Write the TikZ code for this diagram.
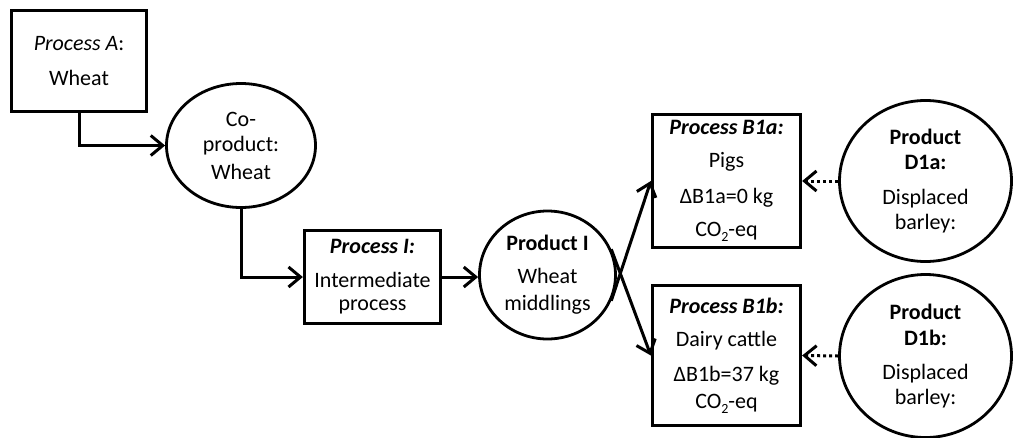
\documentclass[tikz,border=0pt]{standalone}
\usepackage{fontspec}
\setmainfont{Carlito}
\usetikzlibrary{shapes.geometric,arrows.meta}
\newcommand{\sbtwo}{\raisebox{-0.5ex}{\fontsize{14}{14}\selectfont 2}}
\begin{document}
\begin{tikzpicture}[x=1pt,y=-1pt,
  every node/.style={font=\fontsize{22}{25}\selectfont, align=center, inner sep=0pt},
  procbox/.style={draw, line width=3.3pt, rectangle},
  prodblob/.style={draw, line width=2.8pt, ellipse},
  flow/.style={line width=3pt, -{Straight Barb[length=12pt,width=20pt]}},
  subst/.style={line width=3pt, dash pattern=on 3pt off 3pt, -{Straight Barb[length=12pt,width=20pt]}}
]
\useasboundingbox (0,0) rectangle (1014,437);

% processes
\node[procbox, minimum width=135pt, minimum height=101pt] (A) at (79,61)
  {\textit{Process A}:\\[10pt]Wheat};
\node[procbox, minimum width=136pt, minimum height=93pt] (I) at (372.5,277)
  {\textbf{\textit{Process I:}}\\[9pt]Intermediate\\[-2pt]process};
\node[procbox, minimum width=148pt, minimum height=133pt] (B1a) at (726.5,181)
  {\textbf{\textit{Process B1a:}}\\[8pt]Pigs\\[11pt]ΔB1a=0 kg\\[8pt]CO\sbtwo-eq};
\node[procbox, minimum width=148pt, minimum height=140pt] (B1b) at (726.5,355.5)
  {\textbf{\textit{Process B1b:}}\\[8pt]Dairy cattle\\[10pt]ΔB1b=37 kg\\[2pt]CO\sbtwo-eq};

% products
\node[prodblob, minimum width=149pt, minimum height=124pt] (cop) at (241,145.5)
  {Co-\\product:\\[3pt]Wheat};
\node[prodblob, minimum width=136pt, minimum height=128pt] (PI) at (547.5,275)
  {\textbf{Product I}\\[8pt]Wheat\\[2pt]middlings};
\node[prodblob, minimum width=172pt, minimum height=161pt] (D1a) at (925.5,181)
  {\textbf{Product}\\\textbf{D1a:}\\[10pt]Displaced\\barley:};
\node[prodblob, minimum width=172pt, minimum height=163pt] (D1b) at (925.5,356)
  {\textbf{Product}\\[1pt]\textbf{D1b:}\\[9pt]Displaced\\barley:};

% flows
\draw[flow] (A.south) |- (cop.west);
\draw[flow] (cop.south) |- (I.west);
\draw[flow] (I.east) -- (I.east -| PI.west);
\draw[flow] (PI.-22) -- (B1a.west);
\draw[flow] (PI.22) -- (B1b.west);
\draw[subst] (D1a.west) -- (B1a.east);
\draw[subst] (D1b.west) -- (B1b.east);
\end{tikzpicture}
\end{document}
